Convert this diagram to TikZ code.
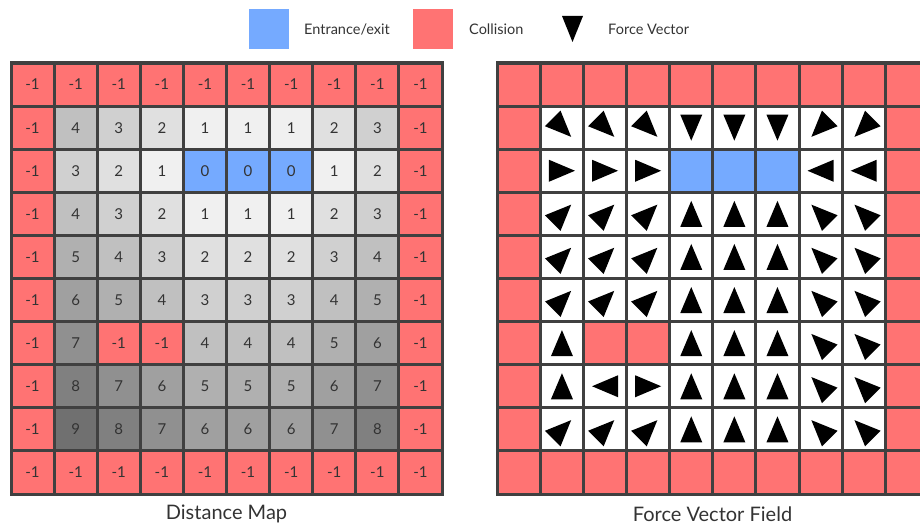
\documentclass[tikz,border=0pt]{standalone}
\usepackage{fontspec}
\setmainfont{Lato}
\definecolor{wall}{HTML}{FF7373}
\definecolor{exitc}{HTML}{75AAFF}
\definecolor{gridc}{HTML}{404040}
\definecolor{txt}{HTML}{333333}
\tikzset{
  gridline/.style={draw=gridc, line width=3pt, line cap=rect},
  celltext/.style={font=\fontsize{15}{17}\selectfont, text=txt, inner sep=0pt},
  legtext/.style={font=\fontsize{14.5}{17}\selectfont, text=txt, anchor=west, inner sep=0pt},
  captext/.style={font=\fontsize{20}{24}\selectfont, text=txt, inner sep=0pt},
  tri/.style={fill=black},
}
\begin{document}
\begin{tikzpicture}[x=1pt,y=-1pt]
\useasboundingbox (0,0) rectangle (920,527);
\clip (0,0) rectangle (920,527);
\def\s{43.1}
% ---------- Legend ----------
\fill[exitc] (249,9) rectangle (289,49);
\node[legtext] (legexit) at (304,29) {Entrance/exit};
\fill[wall] (413,9) rectangle (453,49);
\node[legtext] (legcoll) at (469,29) {Collision};
\begin{scope}[shift={(572.5,29)},rotate=-90]
  \fill[tri] (13,0) -- (-13,10.5) -- (-13,-10.5) -- cycle;
\end{scope}
\node[legtext] (legforce) at (608,29) {Force Vector};
% ---------- Distance map ----------
\begin{scope}[shift={(11,63)}]
\foreach \row [count=\r from 0] in {
  {-1,-1,-1,-1,-1,-1,-1,-1,-1,-1},
  {-1,4,3,2,1,1,1,2,3,-1},
  {-1,3,2,1,0,0,0,1,2,-1},
  {-1,4,3,2,1,1,1,2,3,-1},
  {-1,5,4,3,2,2,2,3,4,-1},
  {-1,6,5,4,3,3,3,4,5,-1},
  {-1,7,-1,-1,4,4,4,5,6,-1},
  {-1,8,7,6,5,5,5,6,7,-1},
  {-1,9,8,7,6,6,6,7,8,-1},
  {-1,-1,-1,-1,-1,-1,-1,-1,-1,-1}} {
  \foreach \v [count=\c from 0] in \row {
    \ifnum\v<0
      \fill[wall] (\c*\s,\r*\s) rectangle ++(\s,\s);
    \else\ifnum\v=0
      \fill[exitc] (\c*\s,\r*\s) rectangle ++(\s,\s);
    \else
      \pgfmathtruncatemacro\g{256-16*\v}
      \fill[color={rgb,255:red,\g;green,\g;blue,\g}] (\c*\s,\r*\s) rectangle ++(\s,\s);
    \fi\fi
    \node[celltext] (d-\r-\c) at (\c*\s+0.5*\s,\r*\s+0.5*\s) {\v};
  }
}
\foreach \i in {0,...,10} {
  \draw[gridline] (\i*\s,0) -- (\i*\s,10*\s);
  \draw[gridline] (0,\i*\s) -- (10*\s,\i*\s);
}
\end{scope}
\node[captext] (capdist) at (226.5,514) {Distance Map};
% ---------- Force vector field ----------
% -1 = collision, -2 = entrance/exit, otherwise screen angle (0 right, 90 down)
\begin{scope}[shift={(497.3,63)}]
\foreach \row [count=\r from 0] in {
  {-1,-1,-1,-1,-1,-1,-1,-1,-1,-1},
  {-1,45,45,45,90,90,90,135,135,-1},
  {-1,0,0,0,-2,-2,-2,180,180,-1},
  {-1,315,315,315,270,270,270,225,225,-1},
  {-1,315,315,315,270,270,270,225,225,-1},
  {-1,315,315,315,270,270,270,225,225,-1},
  {-1,270,-1,-1,270,270,270,225,225,-1},
  {-1,270,180,0,270,270,270,225,225,-1},
  {-1,315,315,315,270,270,270,225,225,-1},
  {-1,-1,-1,-1,-1,-1,-1,-1,-1,-1}} {
  \foreach \v [count=\c from 0] in \row {
    \ifnum\v=-1
      \fill[wall] (\c*\s,\r*\s) rectangle ++(\s,\s);
    \else\ifnum\v=-2
      \fill[exitc] (\c*\s,\r*\s) rectangle ++(\s,\s);
    \else
      \fill[white] (\c*\s,\r*\s) rectangle ++(\s,\s);
      \begin{scope}[shift={(\c*\s+0.5*\s,\r*\s+0.5*\s)},rotate=-\v]
        \fill[tri] (13,0) -- (-13,11) -- (-13,-11) -- cycle;
      \end{scope}
    \fi\fi
  }
}
\foreach \i in {0,...,10} {
  \draw[gridline] (\i*\s,0) -- (\i*\s,10*\s);
  \draw[gridline] (0,\i*\s) -- (10*\s,\i*\s);
}
\end{scope}
\node[captext] (capforce) at (712.5,514) {Force Vector Field};
\end{tikzpicture}
\end{document}
